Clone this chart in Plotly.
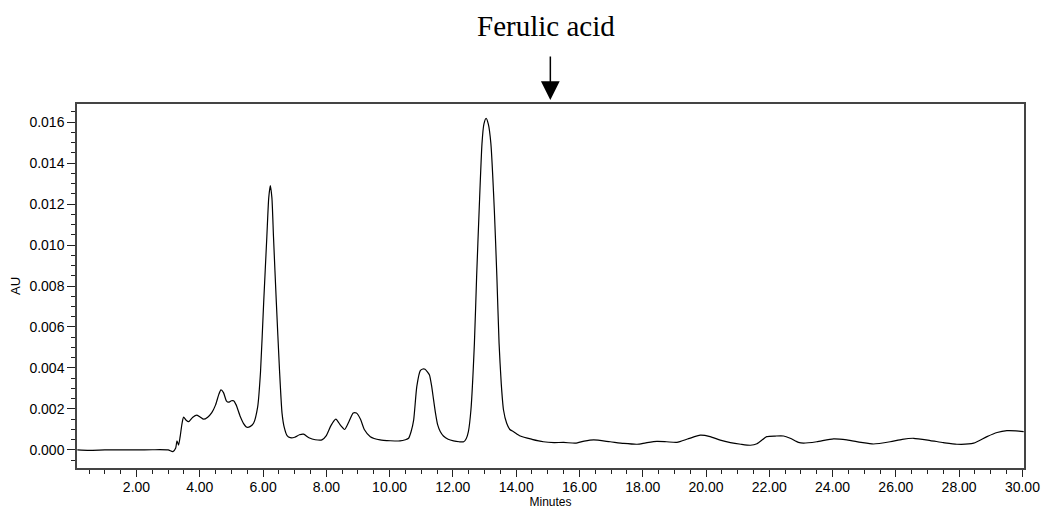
import plotly.graph_objects as go

# Retention time (minutes) and absorbance (AU)
minutes = [
    0.13, 0.5, 1.0, 1.5, 2.0, 2.5, 3.0, 3.15, 3.24, 3.28, 3.33, 3.38, 3.44, 3.49,
    3.57, 3.65, 3.78, 3.91, 4.02, 4.12, 4.25, 4.38, 4.5, 4.6, 4.67, 4.75, 4.84,
    4.91, 5.0, 5.07, 5.15, 5.28, 5.38, 5.49, 5.6, 5.7, 5.83, 5.92, 6.02, 6.12,
    6.18, 6.23, 6.28, 6.33, 6.42, 6.52, 6.6, 6.67, 6.76, 6.86, 7.0, 7.15, 7.28,
    7.45, 7.65, 7.86, 8.0, 8.15, 8.3, 8.45, 8.58, 8.72, 8.85, 8.95, 9.08, 9.2,
    9.39, 9.7, 10.02, 10.33, 10.5, 10.6, 10.68, 10.76, 10.86, 10.97, 11.05,
    11.12, 11.2, 11.26, 11.33, 11.39, 11.45, 11.52, 11.6, 11.7, 11.85, 12.02,
    12.2, 12.34, 12.42, 12.49, 12.57, 12.68, 12.75, 12.83, 12.92, 12.98, 13.05,
    13.12, 13.2, 13.31, 13.39, 13.46, 13.53, 13.6, 13.7, 13.8, 13.92, 14.13,
    14.5, 14.86, 15.2, 15.5, 15.87, 16.15, 16.45, 16.97, 17.4, 17.82, 18.1,
    18.45, 18.75, 19.08, 19.45, 19.82, 20.13, 20.45, 20.77, 21.1, 21.4, 21.61,
    21.92, 22.2, 22.45, 22.66, 22.92, 23.08, 23.5, 24.03, 24.45, 24.9, 25.29,
    25.82, 26.2, 26.56, 27.09, 27.5, 27.93, 28.46, 28.88, 29.2, 29.51, 29.8,
    30.04,
]
au = [
    0.0, -0.00002, 0.0, 0.00001, 0.0, 0.00001, 0.0, -0.00008, 0.0001, 0.00045,
    0.00024, 0.00065, 0.0013, 0.0016, 0.00145, 0.00138, 0.0016, 0.0017, 0.0016,
    0.0015, 0.0016, 0.00182, 0.0022, 0.0027, 0.00293, 0.0028, 0.0024, 0.00233,
    0.0024, 0.0024, 0.0022, 0.00163, 0.0013, 0.00111, 0.00115, 0.0013, 0.0021,
    0.0038, 0.0072, 0.0104, 0.0123, 0.0129, 0.0123, 0.0104, 0.0072, 0.0039,
    0.0018, 0.0011, 0.0007, 0.0006, 0.00062, 0.00074, 0.00077, 0.0006, 0.0005,
    0.00049, 0.0007, 0.0012, 0.0015, 0.0012, 0.001, 0.0014, 0.0018, 0.0018,
    0.0015, 0.001, 0.00065, 0.00049, 0.00045, 0.00044, 0.0005, 0.00057, 0.0009,
    0.00146, 0.0031, 0.00387, 0.00395, 0.00394, 0.0038, 0.00366, 0.0031,
    0.00244, 0.0018, 0.00122, 0.0009, 0.00068, 0.00052, 0.00044, 0.0004,
    0.0004, 0.00055, 0.0009, 0.00195, 0.0052, 0.00845, 0.0117, 0.01496, 0.0159,
    0.01618, 0.0159, 0.01496, 0.0117, 0.00845, 0.0052, 0.0032, 0.00195, 0.0013,
    0.001, 0.00089, 0.00068, 0.00052, 0.0004, 0.00036, 0.00037, 0.00033,
    0.00043, 0.00049, 0.0004, 0.00032, 0.00028, 0.00035, 0.00042, 0.0004,
    0.00037, 0.00055, 0.00072, 0.00065, 0.00048, 0.00036, 0.00028, 0.00023,
    0.0003, 0.00065, 0.00068, 0.00068, 0.00057, 0.00037, 0.00033, 0.0004,
    0.00054, 0.00049, 0.00037, 0.00029, 0.0004, 0.00052, 0.00057, 0.00046,
    0.00036, 0.00028, 0.00033, 0.00065, 0.00085, 0.00094, 0.00093, 0.00089,
]

x_ticks = [2, 4, 6, 8, 10, 12, 14, 16, 18, 20, 22, 24, 26, 28, 30]
y_ticks = [0.000, 0.002, 0.004, 0.006, 0.008, 0.010, 0.012, 0.014, 0.016]
marker_time = 15.08
marker_label = "Ferulic acid"

fig = go.Figure()
fig.add_trace(go.Scatter(
    x=minutes, y=au, mode="lines",
    line=dict(color="black", width=1.2, shape="spline", smoothing=0.6),
    hoverinfo="skip", showlegend=False,
))

tickfont = dict(family="Liberation Sans, Arial, sans-serif", size=14, color="black")

fig.update_layout(
    width=1046, height=511,
    margin=dict(l=77, r=22, t=104, b=43, autoexpand=False),
    paper_bgcolor="white", plot_bgcolor="white",
    xaxis=dict(
        range=[0.12, 30.05], tickvals=x_ticks,
        ticktext=[f"{v:.2f}" for v in x_ticks],
        ticks="outside", ticklen=7, tickwidth=1, tickcolor="#222",
        minor=dict(dtick=0.5, tick0=0, ticks="outside", ticklen=4, tickcolor="#222"),
        showgrid=False, zeroline=False, automargin=False,
        showline=True, linecolor="#444", linewidth=1.5, mirror=True,
        tickfont=tickfont, ticklabelstandoff=-2,
        title=dict(text="Minutes", font=dict(family="Liberation Sans, Arial", size=12, color="black"),
                   standoff=0),
    ),
    yaxis=dict(
        range=[-0.00088, 0.01688], tickvals=y_ticks,
        ticktext=[f"{v:.3f}" for v in y_ticks],
        ticks="outside", ticklen=8, tickwidth=1, tickcolor="#222",
        minor=dict(dtick=0.0005, tick0=0, ticks="outside", ticklen=4, tickcolor="#222"),
        showgrid=False, zeroline=False, automargin=False,
        showline=True, linecolor="#444", linewidth=1.5, mirror=True,
        tickfont=tickfont,
        title=dict(text="AU", font=dict(family="Liberation Sans, Arial", size=13, color="black"),
                   standoff=6),
    ),
)

fig.add_annotation(
    x=marker_time, xref="x", y=1.011, yref="paper",
    ax=0, ay=-45, axref="pixel", ayref="pixel",
    showarrow=True, arrowhead=2, arrowsize=2.5, arrowwidth=1.5, arrowcolor="black",
    text="",
)
fig.add_annotation(
    x=marker_time, xref="x", y=1.165, yref="paper", yanchor="bottom",
    text=marker_label, showarrow=False, xshift=-4,
    font=dict(family="Liberation Serif, Times New Roman, serif", size=29, color="black"),
)

fig.write_html(
    "out.html",
    config={"displayModeBar": False},
    post_script="document.body.style.margin='0px';document.body.style.overflow='hidden';",
)
